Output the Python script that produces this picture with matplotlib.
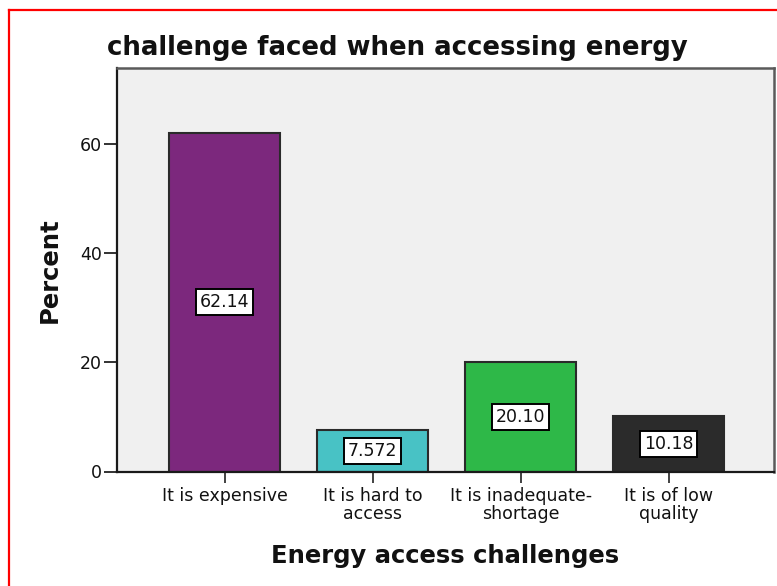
import matplotlib
matplotlib.use("Agg")
import matplotlib.pyplot as plt
from matplotlib.lines import Line2D

categories = ["It is expensive", "It is hard to\naccess", "It is inadequate-\nshortage", "It is of low\nquality"]
percents = [62.14, 7.572, 20.10, 10.18]
value_labels = ["62.14", "7.572", "20.10", "10.18"]
bar_colors = ["#7c287d", "#48c2c5", "#2eb848", "#2b2b2b"]
yticks = [0, 20, 40, 60]

plt.rcParams['font.family'] = ['DejaVu Sans']

W, H = 777, 586
fig = plt.figure(figsize=(W / 100, H / 100), dpi=100)
fig.patch.set_facecolor("white")

ax_l, ax_r, ax_t, ax_b = 117, 774, 68, 471.5
ax = fig.add_axes([ax_l / W, (H - ax_b) / H, (ax_r - ax_l) / W, (ax_b - ax_t) / H])
ax.set_facecolor("#f0f0f0")

x = list(range(len(categories)))
ax.bar(x, percents, width=0.75, color=bar_colors, edgecolor="#2a2a2a", linewidth=1.5, zorder=2)

for xi, v, lab in zip(x, percents, value_labels):
    ax.text(xi, v / 2, lab, ha="center", va="center", fontsize=12.5, color="#111111", zorder=3,
            bbox=dict(boxstyle="square,pad=0.22", facecolor="white", edgecolor="black", linewidth=1.4))

ax.set_xlim(-0.727, 3.711)
ax.set_ylim(0, 74)
ax.set_yticks(yticks)
ax.set_yticklabels([str(t) for t in yticks])
ax.set_xticks(x)
ax.set_xticklabels(categories, fontsize=12.5, linespacing=0.99, color="#111111")
ax.tick_params(axis="y", length=9.5, width=1.3, pad=1.5, labelsize=12.5, color="#222222", labelcolor="#111111")
ax.tick_params(axis="x", length=8, width=1.3, pad=3, color="#333333")

for s in ["left", "bottom"]:
    ax.spines[s].set_color("#1a1a1a")
    ax.spines[s].set_linewidth(1.6)
for s in ["top", "right"]:
    ax.spines[s].set_color("#5a5a5a")
    ax.spines[s].set_linewidth(1.8)

ax.set_xlabel("Energy access challenges", fontsize=17.5, fontweight="bold", color="#111111")
ax.xaxis.set_label_coords(0.5, (ax_b - 563.3) / (ax_b - ax_t))
ax.xaxis.label.set_verticalalignment("baseline")

ax.set_ylabel("Percent", fontsize=17.5, fontweight="bold", color="#111111")
ax.yaxis.set_label_coords((56.7 - ax_l) / (ax_r - ax_l), 0.5)
ax.yaxis.label.set_verticalalignment("baseline")

fig.text(397 / W, (H - 55) / H, "challenge faced when accessing energy", ha="center", va="baseline",
         fontsize=18.7, fontweight="bold", color="#111111")

# red frame (left and top edges visible)
fig.add_artist(Line2D([9.2 / W, 9.2 / W], [0, (H - 9.5) / H], transform=fig.transFigure, color="#ff0000", linewidth=1.6))
fig.add_artist(Line2D([9.2 / W, 1], [(H - 9.5) / H, (H - 9.5) / H], transform=fig.transFigure, color="#ff0000", linewidth=1.6))

fig.savefig("out.png", dpi=100)
